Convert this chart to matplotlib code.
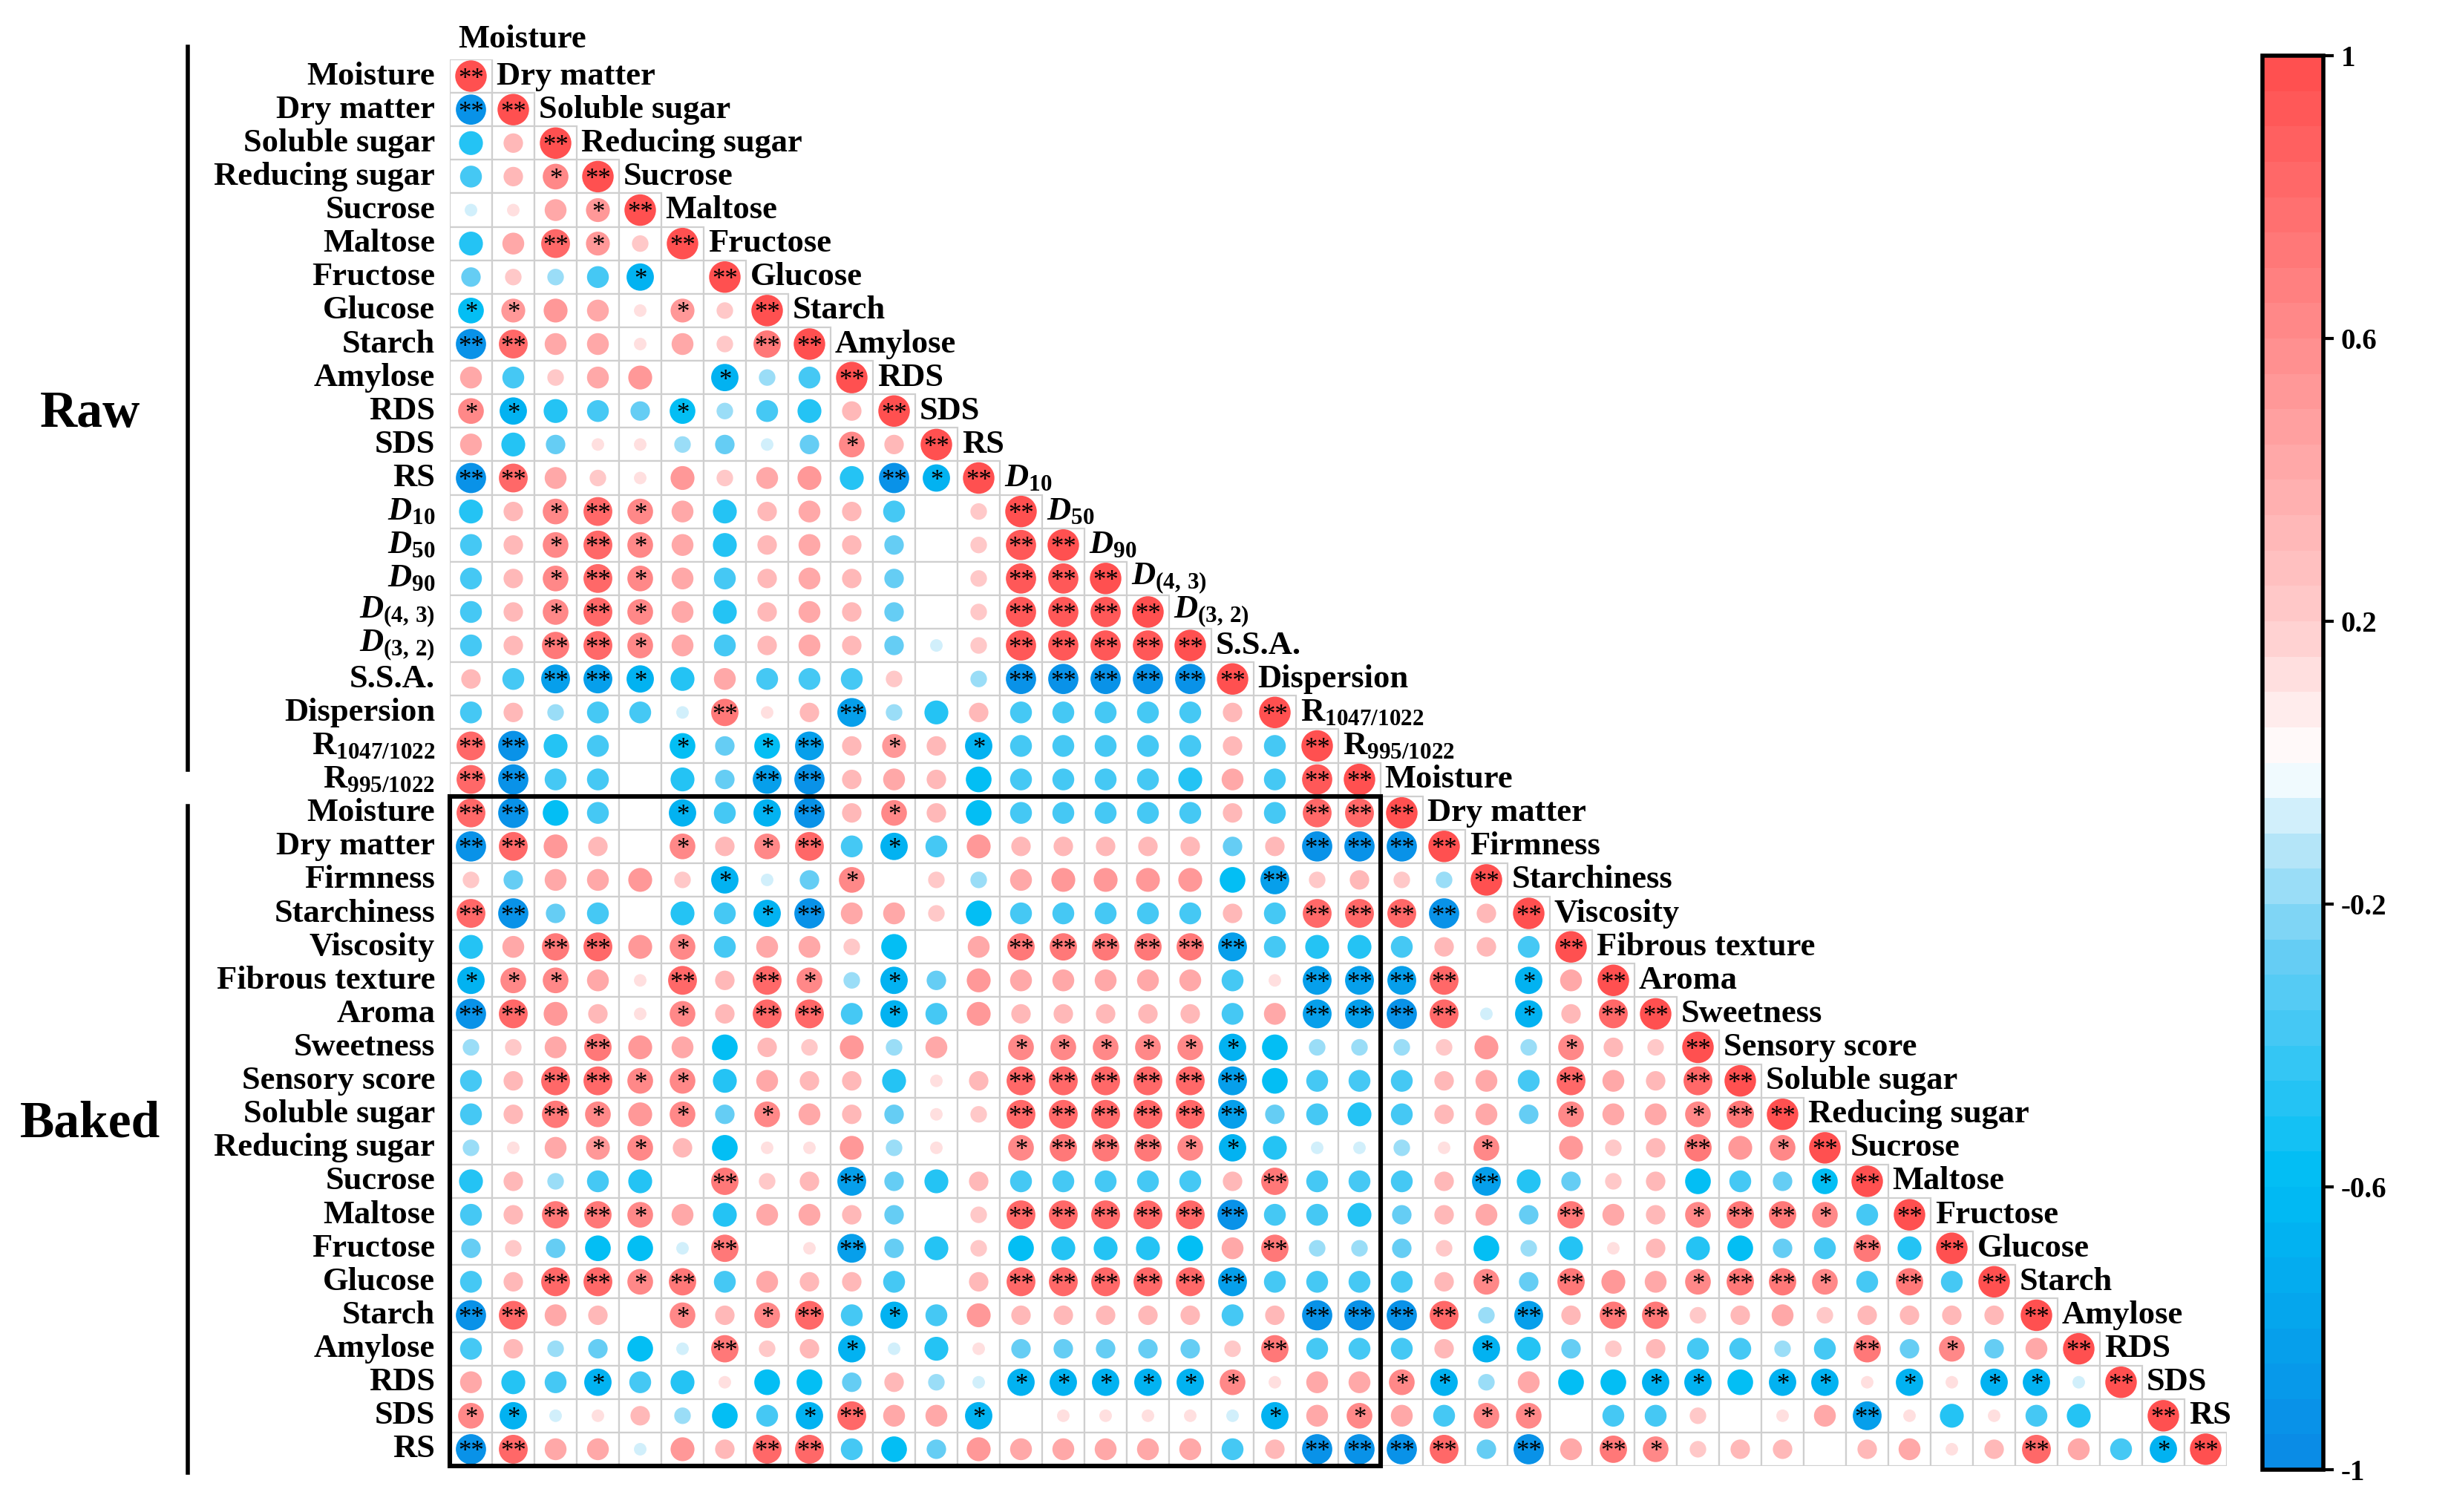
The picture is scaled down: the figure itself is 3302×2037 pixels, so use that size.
import numpy as np, matplotlib; matplotlib.use('Agg')
import matplotlib.pyplot as plt
from matplotlib.patches import Rectangle, Ellipse
from matplotlib.colors import LinearSegmentedColormap, Normalize

plt.rcParams['font.family']=['Liberation Serif','DejaVu Serif']
plt.rcParams['mathtext.fontset']='custom'
plt.rcParams['mathtext.rm']='Liberation Serif:bold'
plt.rcParams['mathtext.it']='Liberation Serif:italic:bold'
plt.rcParams['mathtext.bf']='Liberation Serif:bold'

raw_vars=['Moisture','Dry matter','Soluble sugar','Reducing sugar','Sucrose','Maltose','Fructose','Glucose',
          'Starch','Amylose','RDS','SDS','RS',r'$\mathit{D}_{10}$',r'$\mathit{D}_{50}$',r'$\mathit{D}_{90}$',
          r'$\mathit{D}_{(4,\,3)}$',r'$\mathit{D}_{(3,\,2)}$','S.S.A.','Dispersion',r'R$_{1047/1022}$',r'R$_{995/1022}$']
baked_vars=['Moisture','Dry matter','Firmness','Starchiness','Viscosity','Fibrous texture','Aroma','Sweetness',
            'Sensory score','Soluble sugar','Reducing sugar','Sucrose','Maltose','Fructose','Glucose','Starch',
            'Amylose','RDS','SDS','RS']
names=raw_vars+baked_vars

# lower triangle, r x10, stars = significance
rows=["",
"-9**",
"-5 3",
"-4 3 6*",
"-1 1 4 5*",
"-5 4 8** 5* 2",
"-3 2 -2 -4 -7* 0",
"-6* 5* 5 4 1 5* 2",
"-9** 8** 4 4 1 4 2 7**",
"4 -4 2 4 5 0 -7* -2 -4",
"6* -7* -5 -4 -3 -6* -2 -4 -5 3",
"4 -5 -3 1 1 -2 -3 -1 -3 6* 3",
"-9** 8** 4 2 1 5 2 4 5 -5 -9** -7*",
"-5 3 6* 8** 6* 4 -5 3 4 3 -4 0 2",
"-4 3 6* 8** 6* 4 -5 3 4 3 -3 0 2 9**",
"-4 3 6* 8** 6* 4 -4 3 4 3 -3 0 2 9** 9**",
"-4 3 6* 8** 6* 4 -5 3 4 3 -3 0 2 9** 9** 9**",
"-4 3 7** 8** 6* 4 -4 3 4 3 -3 -1 2 9** 9** 9** 9**",
"3 -4 -8** -8** -7* -5 4 -4 -4 -4 2 0 -2 -9** -9** -9** -9** -9**",
"-4 3 -2 -4 -4 -1 7** 1 3 -8** -2 -5 3 -4 -4 -4 -4 -4 3",
"8** -9** -5 -4 0 -6* -3 -6* -8** 3 5* 3 -7* -4 -4 -4 -4 -4 3 -4",
"8** -9** -4 -4 0 -5 -3 -8** -9** 3 4 3 -6 -4 -4 -4 -4 -5 4 -4 9**",
"8** -9** -6 -4 0 -7* -4 -7* -9** 3 6* 3 -6 -4 -4 -4 -4 -4 3 -4 8** 8**",
"-9** 8** 5 3 0 6* 3 6* 8** -4 -7* -4 5 3 3 3 3 3 -3 3 -9** -9** -9**",
"2 -3 4 4 5 2 -7* -1 -3 6* 0 2 -2 4 5 5 5 5 -6 -8** 2 3 2 -2",
"8** -9** -3 -4 0 -5 -4 -7* -9** 4 4 2 -6 -4 -4 -4 -4 -4 3 -4 8** 8** 8** -9** 3",
"-5 4 7** 8** 5 6* -4 4 4 2 -6 0 4 7** 7** 7** 7** 7** -8** -4 -5 -5 -4 3 3 -4",
"-7* 6* 6* 4 1 8** 3 8** 6* -2 -7* -3 5 4 4 4 4 4 -4 1 -8** -8** -8** 8** 0 -7* 4",
"-9** 8** 5 3 1 6* 3 8** 8** -4 -7* -4 5 3 3 3 3 3 -4 4 -8** -8** -9** 8** -1 -7* 3 8**",
"-2 2 4 7** 5 4 -6 3 2 5 -2 4 0 6* 6* 6* 6* 6* -7* -6 -2 -2 -2 2 5 -2 6* 3 2",
"-4 3 8** 8** 6* 6* -5 4 3 3 -5 1 3 8** 8** 8** 8** 8** -8** -6 -4 -4 -4 3 4 -4 8** 4 3 8**",
"-4 3 7** 6* 5 6* -3 6* 4 3 -3 1 2 8** 8** 8** 8** 8** -8** -3 -4 -5 -4 3 4 -3 6* 4 4 6* 7**",
"-2 1 4 5* 6* 3 -6 1 1 5 -2 1 0 6* 7** 7** 7** 6* -7* -5 -1 -1 -2 1 6* 0 5 2 3 7** 5 6*",
"-5 3 -2 -4 -5 0 7** 2 3 -8** -3 -5 3 -4 -4 -4 -4 -4 3 7** -4 -4 -4 3 -8** -5 -3 2 3 -6 -4 -3 -6*",
"-4 3 7** 7** 6* 4 -5 4 4 3 -3 0 2 8** 8** 8** 8** 8** -9** -4 -4 -5 -3 3 4 -3 7** 4 3 6* 7** 7** 6* -4",
"-3 2 -3 -6 -6 -1 7** 0 1 -8** -3 -5 2 -6 -5 -5 -5 -6 4 7** -2 -2 -3 2 -6 -2 -5 1 3 -5 -6 -3 -4 7** -5",
"-4 3 8** 8** 6* 7** -4 4 3 3 -4 0 3 8** 8** 8** 8** 8** -8** -4 -4 -4 -4 3 6* -3 7** 5 4 6* 7** 7** 6* -4 7** -4",
"-9** 8** 4 3 0 6* 3 6* 8** -4 -7* -4 5 3 3 3 3 3 -4 3 -9** -9** -9** 8** -2 -8** 3 7** 7** 2 3 4 2 3 3 3 3",
"-4 3 -2 -3 -6 -1 7** 2 3 -7* -1 -5 1 -3 -3 -3 -3 -3 2 7** -4 -4 -4 3 -7* -5 -3 2 3 -4 -4 -2 -4 7** -3 6* -3 4",
"4 -5 -4 -7* -4 -5 1 -6 -6 -3 3 -2 -1 -7* -7* -7* -7* -7* 6* 1 4 4 6* -7* -2 4 -6 -6 -7* -7* -6 -7* -7* 1 -7* 1 -7* -7* -1",
"6* -7* -1 1 3 -2 -6 -4 -7* 8** 4 4 -7* 0 1 1 1 1 -1 -7* 4 6* 4 -4 6* 6* 0 -4 -4 2 0 1 4 -8** 1 -5 1 -4 -5 0",
"-9** 8** 4 4 -1 5 3 8** 8** -4 -6 -3 5 4 4 4 4 4 -4 3 -9** -9** -9** 8** -3 -9** 4 7** 6* 2 3 3 0 3 4 1 3 8** 4 -4 -7*",
]

n=len(names)
cmap=LinearSegmentedColormap.from_list('cc',[(0,'#0A8CE6'),(0.2,'#00BEF4'),(0.36,'#66CDF4'),(0.44,'#B8E6F8'),
                                             (0.5,'#FFFFFF'),(0.6,'#FFCDCD'),(0.75,'#FF9E9E'),(1,'#FF5050')],N=40)
norm=Normalize(-1,1)

W,H=3302,2037
fig=plt.figure(figsize=(W/200,H/200),dpi=200)
ax=fig.add_axes([606/W,1-1975/H,(3000-606)/W,(1975-80)/H])
ax.set_xlim(-0.5,n-0.5); ax.set_ylim(n-0.5,-0.5); ax.axis('off')

for i in range(n):
    toks=rows[i].split()+['10**']
    for j,t in enumerate(toks):
        v=int(t.rstrip('*'))/10; st=t.count('*')
        ax.add_patch(Rectangle((j-0.5,i-0.5),1,1,fc='white',ec='#cfcfcf',lw=0.8,zorder=1))
        if v!=0:
            d=0.98*abs(v)**0.4
            ax.add_patch(Ellipse((j,i),d*0.76,d*0.96,fc=cmap(norm(v)),ec='none',zorder=2))
        if st: ax.text(j,i+0.1,'*'*st,ha='center',va='center',fontsize=12.5,zorder=3)

lab=dict(fontsize=16,fontweight='bold',va='center')
for i,nm in enumerate(names):
    ax.text(-0.85,i,nm,ha='right',**lab)
    if i==0: ax.text(-0.3,-1.1,nm,ha='left',clip_on=False,**lab)
    else: ax.text(i-0.5+0.1,i-1,nm,ha='left',clip_on=False,**lab)

# raw/baked brackets
ax.plot([-6.7,-6.7],[-0.88,20.7],color='black',lw=2,clip_on=False)
ax.plot([-6.7,-6.7],[21.8,41.7],color='black',lw=2,clip_on=False)
ax.text(-9.0,10.1,'Raw',fontsize=25,fontweight='bold',ha='center',va='center')
ax.text(-9.0,31.3,'Baked',fontsize=25,fontweight='bold',ha='center',va='center')
ax.add_patch(Rectangle((-0.5,21.5),22,20,fill=False,ec='black',lw=2.2,zorder=4,clip_on=False))

cax=fig.add_axes([3048/W,1-1980/H,82/W,(1980-75)/H])
cb=fig.colorbar(plt.cm.ScalarMappable(norm=norm,cmap=cmap),cax=cax,ticks=[1,0.6,0.2,-0.2,-0.6,-1])
cb.ax.set_yticklabels(['1','0.6','0.2','-0.2','-0.6','-1'],fontsize=14,fontweight='bold')
cb.outline.set_linewidth(2)
cb.ax.tick_params(width=1.5,length=5)

fig.savefig('out.png',dpi=200,facecolor='white')
